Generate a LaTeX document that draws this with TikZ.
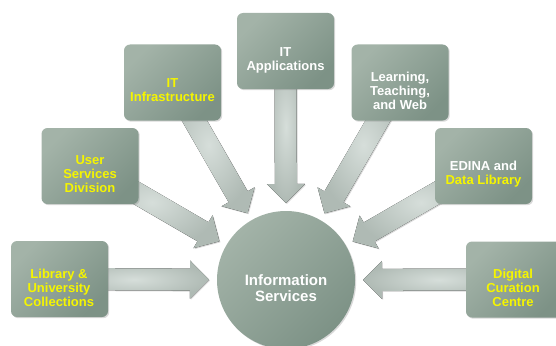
\documentclass[tikz,border=0pt]{standalone}
\usepackage{fontspec}
\setmainfont{Liberation Sans}
\usetikzlibrary{calc,shadows}
\pgfdeclarelayer{bg}
\pgfsetlayers{bg,main}
\definecolor{boxlight}{HTML}{A3B3A8}
\definecolor{boxdark}{HTML}{7D9286}
\definecolor{arrlight}{HTML}{D6DEDA}
\definecolor{arrdark}{HTML}{AFBAB4}
\definecolor{txtyellow}{HTML}{F5F500}
\tikzset{
  unitbox/.style={rounded corners=6pt, minimum width=97pt, minimum height=76pt,
    inner sep=0pt, top color=boxlight, bottom color=boxdark, shading angle=45,
    drop shadow={opacity=0.3, shadow xshift=1.2pt, shadow yshift=-1.2pt}},
  hubcircle/.style={circle, minimum size=138pt, inner sep=0pt,
    top color=boxlight, bottom color=boxdark, shading angle=45,
    drop shadow={opacity=0.3, shadow xshift=1.2pt, shadow yshift=-1.2pt}},
  boxtext/.style={align=center, font=\fontsize{13}{14}\selectfont\bfseries,
    text=white, inner sep=0pt},
  hubtext/.style={align=center, font=\fontsize{15}{16}\selectfont\bfseries,
    text=white, inner sep=0pt},
  ylw/.style={text=txtyellow},
  flow/.style={inner color=arrlight, outer color=arrdark,
    drop shadow={opacity=0.3, shadow xshift=1pt, shadow yshift=-1pt}}
}
\newcommand{\flowarrow}[1]{%
  \path ($(is)!77pt!(#1)$) coordinate (#1-t)
        ($(is)!96pt!(#1)$) coordinate (#1-h);
  \fill[flow] ($(#1)!11pt!90:(is)$) -- ($(#1-h)!11pt!90:(is)$)
    -- ($(#1-h)!19pt!90:(is)$) -- (#1-t) -- ($(#1-h)!19pt!-90:(is)$)
    -- ($(#1-h)!11pt!-90:(is)$) -- ($(#1)!11pt!-90:(is)$) -- cycle;}
\begin{document}
\begin{tikzpicture}[x=1pt,y=-1pt]
\useasboundingbox (0,0) rectangle (556,345);
\clip (0,0) rectangle (556,345);
% boxes
\node[unitbox] (lib) at (59.5,279) {};
\node[unitbox] (dcc) at (514.5,279.5) {};
\node[unitbox] (usd) at (90,166) {};
\node[unitbox] (iti) at (172.5,82.5) {};
\node[unitbox] (ita) at (285.5,51) {};
\node[unitbox] (ltw) at (400,82.5) {};
\node[unitbox] (edn) at (483.5,166) {};
\node[hubcircle] (is) at (286,280) {};
% texts
\node[boxtext,ylw] (libt) at (59,288) {Library \&\\University\\Collections};
\node[boxtext,ylw] (dcct) at (513,288) {Digital\\Curation\\Centre};
\node[boxtext,ylw] (usdt) at (90,174) {User\\Services\\Division};
\node[boxtext,ylw] (itit) at (172.5,90) {IT\\Infrastructure};
\node[boxtext] (itat) at (285.5,60) {IT\\Applications};
\node[boxtext] (ltwt) at (400,91) {Learning,\\Teaching,\\and Web};
\node[boxtext] (ednt) at (483.5,174) {EDINA and\\\textcolor{txtyellow}{Data Library}};
\node[hubtext] (ist) at (286,288) {Information\\Services};
% arrows
\begin{pgfonlayer}{bg}
\flowarrow{lib}
\flowarrow{dcc}
\flowarrow{usd}
\flowarrow{iti}
\flowarrow{ita}
\flowarrow{ltw}
\flowarrow{edn}
\end{pgfonlayer}
\end{tikzpicture}
\end{document}
